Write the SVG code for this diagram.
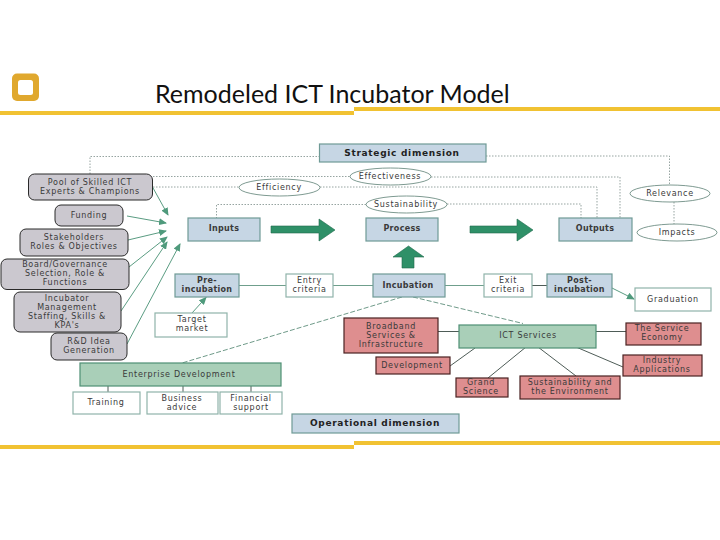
<svg xmlns="http://www.w3.org/2000/svg" width="720" height="540" viewBox="0 0 720 540">
<style>
text{font-family:"DejaVu Sans","Liberation Sans",sans-serif;font-size:8px;fill:#3a3a3a;text-anchor:middle;letter-spacing:.7px}
.title{font-family:"Lato","Liberation Sans",sans-serif;font-size:25px;fill:#111;text-anchor:start;letter-spacing:0}
.b{font-weight:bold;letter-spacing:.3px}
.d{font-size:9px;fill:#222;letter-spacing:.7px}
.blue{fill:#c6d6e4;stroke:#6f9a96;stroke-width:1.2}
.gray{fill:#cbc8cf;stroke:#2a2a2a;stroke-width:1}
.red{fill:#de8e8f;stroke:#4a2222;stroke-width:1.2}
.green{fill:#a9cfb8;stroke:#4f8f74;stroke-width:1.2}
.white{fill:#fff;stroke:#8fb3aa;stroke-width:1.2}
.oval{fill:#fff;stroke:#6f8f84;stroke-width:.9}
.dot{fill:none;stroke:#8a9a96;stroke-width:.9;stroke-dasharray:1.5 1.5}
.line{fill:none;stroke:#6f9f8c;stroke-width:1}
.dark{fill:none;stroke:#3a4a44;stroke-width:.9}
.dash{fill:none;stroke:#5f8f7c;stroke-width:.9;stroke-dasharray:5 2}
.arr{fill:none;stroke:#5a9c82;stroke-width:1;marker-end:url(#ah)}
.big{fill:#2f9068;stroke:#1f6a4c;stroke-width:.6}
.bar{fill:#f1c232}
</style>
<defs>
<marker id="ah" markerUnits="userSpaceOnUse" markerWidth="8" markerHeight="7" refX="7" refY="3.5" orient="auto"><path d="M0 0L8 3.5L0 7Z" fill="#4f9a7c"/></marker>
</defs>
<g id="chrome">
<rect x="12" y="73.500" width="27" height="27.500" rx="5" fill="#e0a82e"/>
<rect x="18" y="80" width="15" height="15" rx="2.500" fill="#fff"/>
<rect class="bar" x="0" y="111" width="354" height="4"/>
<rect class="bar" x="354" y="107" width="366" height="4"/>
<rect class="bar" x="0" y="445" width="354" height="4"/>
<rect class="bar" x="354" y="441" width="366" height="4"/>
<text class="title" x="155" y="103">Remodeled ICT Incubator Model</text>
</g>
<g id="connectors">
<path class="dot" d="M90 174V156.500H319.500"/>
<path class="dot" d="M153 176.500H350"/>
<path class="dot" d="M153 187H239"/>
<path class="dot" d="M320 187H597V218"/>
<path class="dot" d="M431 177H620V218"/>
<path class="dot" d="M447 204H581V218"/>
<path class="dot" d="M366 204.500H216.500V218"/>
<path class="dot" d="M486 156H669.500V185"/>
<path class="dot" d="M674 202V224"/>
<path class="arr" d="M152.500 187L168 215"/>
<path class="arr" d="M127 216L166 223"/>
<path class="arr" d="M128 240L166 231"/>
<path class="arr" d="M129 267L167 237"/>
<path class="arr" d="M121 311L167 242"/>
<path class="arr" d="M127 344L180 244"/>
<path class="big" d="M271 226H319V219L335 230L319 241V233H271Z"/>
<path class="big" d="M470 226H517V219L533 230L517 241V233H470Z"/>
<path class="big" d="M402 268V257H393L408.500 246L424 257H414V268Z"/>
<path class="line" d="M239 285.500H286M333 285.500H373M445 285.500H484"/>
<path class="dark" d="M532 285.500H547"/>
<path class="arr" d="M612 288L634 299"/>
<path class="arr" d="M192 313L206 297.500"/>
<path class="dash" d="M402 297L182 363"/>
<path class="dash" d="M413 297L523 323.500"/>
<path class="dark" d="M438 331.500H459M596 331.500H626M475 348L450 366M526 347L488 378M538 347L576 376M576 347L623 367M108 386V392M183 386V392M251 386V392"/>
</g>
<g id="strategic"><rect class="blue" x="319.500" y="144" width="166.500" height="18"/><text class="b d" x="402" y="156">Strategic dimension</text></g>
<g id="pool"><rect class="gray" x="28.500" y="174" width="124" height="26" rx="6"/><text x="90" y="185">Pool of Skilled ICT</text><text x="90" y="194">Experts &amp; Champions</text></g>
<g id="funding"><rect class="gray" x="55" y="205" width="68" height="21" rx="6"/><text x="89" y="218">Funding</text></g>
<g id="stakeholders"><rect class="gray" x="20" y="229" width="108" height="27" rx="6"/><text x="74" y="240">Stakeholders</text><text x="74" y="249">Roles &amp; Objectives</text></g>
<g id="board"><rect class="gray" x="1" y="259" width="128" height="30.500" rx="6"/><text x="65" y="267">Board/Governance</text><text x="65" y="276">Selection, Role &amp;</text><text x="65" y="285">Functions</text></g>
<g id="management"><rect class="gray" x="14" y="292" width="107" height="40" rx="6"/><text x="67" y="301">Incubator</text><text x="67" y="310">Management</text><text x="67" y="319">Staffing, Skills &amp;</text><text x="67" y="328">KPA's</text></g>
<g id="rd"><rect class="gray" x="51" y="333" width="76" height="27" rx="6"/><text x="89" y="344">R&amp;D Idea</text><text x="89" y="353">Generation</text></g>
<g id="inputs"><rect class="blue" x="188" y="218" width="72" height="23"/><text class="b" x="224" y="231">Inputs</text></g>
<g id="process"><rect class="blue" x="366" y="218" width="72" height="23"/><text class="b" x="402" y="231">Process</text></g>
<g id="outputs"><rect class="blue" x="559" y="218" width="73" height="23"/><text class="b" x="595" y="231">Outputs</text></g>
<g id="efficiency"><ellipse class="oval" cx="279.500" cy="187.500" rx="40.500" ry="8.500"/><text x="279" y="190">Efficiency</text></g>
<g id="effectiveness"><ellipse class="oval" cx="390.500" cy="176.500" rx="40.500" ry="8.500"/><text x="390" y="179">Effectiveness</text></g>
<g id="sustainability"><ellipse class="oval" cx="406.500" cy="204.500" rx="40.500" ry="8.500"/><text x="406" y="207">Sustainability</text></g>
<g id="relevance"><ellipse class="oval" cx="670" cy="193.500" rx="40" ry="8.500"/><text x="670" y="196">Relevance</text></g>
<g id="impacts"><ellipse class="oval" cx="677" cy="232.500" rx="40" ry="8.500"/><text x="677" y="235">Impacts</text></g>
<g id="pre"><rect class="blue" x="175" y="274" width="64" height="23"/><text class="b" x="207" y="283">Pre-</text><text class="b" x="207" y="292">incubation</text></g>
<g id="entry"><rect class="white" x="286" y="274" width="47" height="23"/><text x="309.500" y="283">Entry</text><text x="309.500" y="292">criteria</text></g>
<g id="incubation"><rect class="blue" x="373" y="274" width="72" height="23"/><text class="b" x="408" y="288">Incubation</text></g>
<g id="exit"><rect class="white" x="484" y="274" width="48" height="23"/><text x="508" y="283">Exit</text><text x="508" y="292">criteria</text></g>
<g id="post"><rect class="blue" x="547" y="274" width="65" height="23"/><text class="b" x="579.500" y="283">Post-</text><text class="b" x="579.500" y="292">incubation</text></g>
<g id="graduation"><rect class="white" x="635" y="288" width="76" height="23"/><text x="673" y="302">Graduation</text></g>
<g id="target"><rect class="white" x="155" y="313" width="72" height="24"/><text x="192" y="322">Target</text><text x="192" y="331">market</text></g>
<g id="enterprise"><rect class="green" x="80" y="363" width="201" height="23"/><text x="179" y="377">Enterprise Development</text></g>
<g id="training"><rect class="white" x="73" y="392" width="67" height="22"/><text x="106" y="405">Training</text></g>
<g id="business"><rect class="white" x="147" y="392" width="71" height="22"/><text x="182" y="401">Business</text><text x="182" y="410">advice</text></g>
<g id="financial"><rect class="white" x="220" y="392" width="62" height="22"/><text x="251" y="401">Financial</text><text x="251" y="410">support</text></g>
<g id="operational"><rect class="blue" x="292" y="414" width="167" height="19"/><text class="b d" x="375" y="426">Operational dimension</text></g>
<g id="broadband"><rect class="red" x="344" y="318" width="94" height="35"/><text x="391" y="329">Broadband</text><text x="391" y="338">Services &amp;</text><text x="391" y="347">Infrastructure</text></g>
<g id="ict"><rect class="green" x="459" y="325" width="137" height="23"/><text x="528" y="338">ICT Services</text></g>
<g id="service"><rect class="red" x="626" y="323" width="75" height="22"/><text x="662" y="331">The Service</text><text x="662" y="340">Economy</text></g>
<g id="development"><rect class="red" x="376" y="357" width="74" height="17"/><text x="412" y="368">Development</text></g>
<g id="industry"><rect class="red" x="623" y="355" width="79" height="21"/><text x="662" y="363">Industry</text><text x="662" y="372">Applications</text></g>
<g id="grand"><rect class="red" x="456" y="378" width="52" height="19"/><text x="481" y="385">Grand</text><text x="481" y="394">Science</text></g>
<g id="environment"><rect class="red" x="520" y="376" width="100" height="23"/><text x="570" y="385">Sustainability and</text><text x="570" y="394">the Environment</text></g>
</svg>
